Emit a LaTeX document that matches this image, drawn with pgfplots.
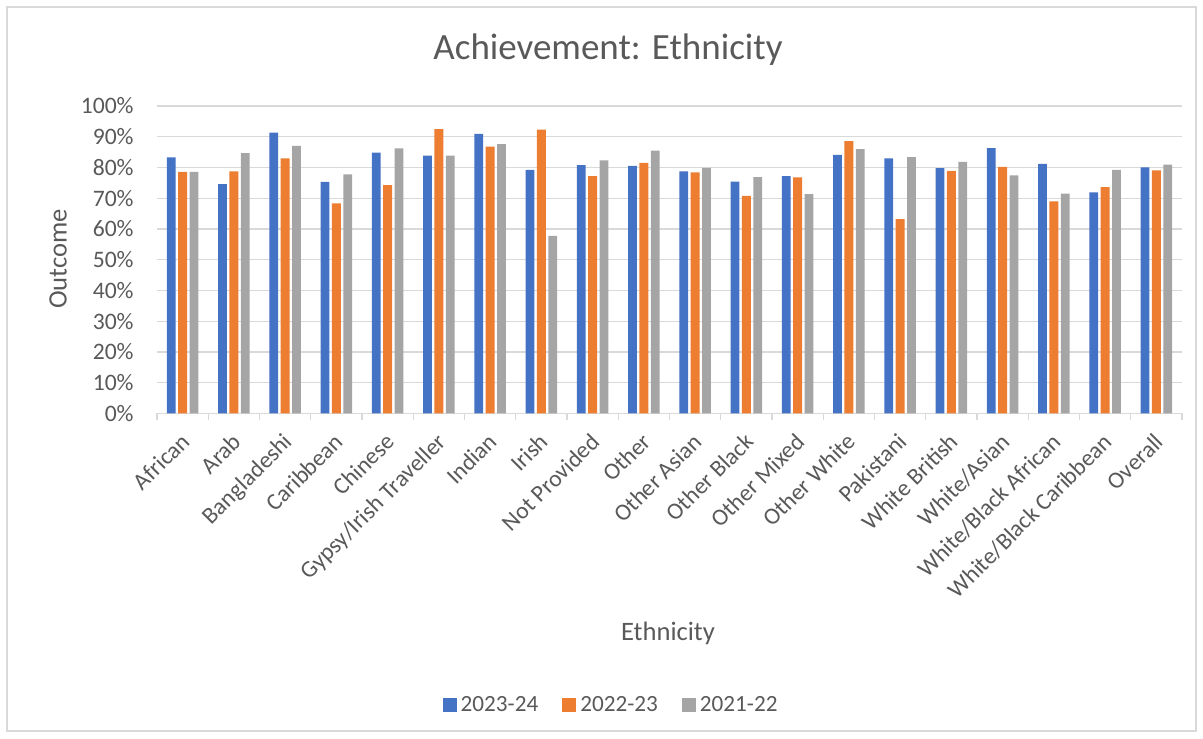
\documentclass[border=0pt]{standalone}
\usepackage{pgfplots}
\pgfplotsset{compat=1.18}
\usepackage{fontspec}
\setmainfont{Carlito}
\definecolor{cblue}{HTML}{4472C4}
\definecolor{corange}{HTML}{ED7D31}
\definecolor{cgray}{HTML}{A5A5A5}
\definecolor{ctext}{HTML}{595959}
\definecolor{cgrid}{HTML}{D9D9D9}
\begin{document}
\begin{tikzpicture}
\path[use as bounding box] (0,0) rectangle (601.5pt,369pt);
\draw[cgrid,line width=0.6pt] (3.5pt,3.5pt) rectangle (598pt,365.5pt);
\begin{axis}[
  at={(78.5pt,162.25pt)}, anchor=south west,
  scale only axis, width=512.5pt, height=153.75pt,
  ybar=1.3pt, bar width=4.4pt,
  xmin=-0.5, xmax=19.5, ymin=0, ymax=100,
  xtick={0,...,19},
  xticklabels={African,Arab,Bangladeshi,Caribbean,Chinese,Gypsy/Irish Traveller,Indian,Irish,Not Provided,Other,Other Asian,Other Black,Other Mixed,Other White,Pakistani,White British,White/Asian,White/Black African,White/Black Caribbean,Overall},
  major x tick style={draw=none},
  minor xtick={-0.5,0.5,...,19.5},
  minor x tick style={cgrid, line width=0.6pt},
  minor tick length=3pt,
  xtick align=outside,
  ytick={0,10,...,100},
  yticklabels={0\%,10\%,20\%,30\%,40\%,50\%,60\%,70\%,80\%,90\%,100\%},
  ymajorgrids, grid style={cgrid, line width=0.6pt},
  major y tick style={draw=none},
  axis x line*=bottom, axis y line*=left,
  x axis line style={cgrid, line width=0.6pt, -},
  y axis line style={draw=none},
  tick label style={font=\fontsize{11.8pt}{13pt}\selectfont, text=ctext},
  yticklabel style={anchor=east, inner sep=0pt, xshift=-11.5pt},
  xticklabel style={xshift=-1.6pt, yshift=-4.6pt, rotate=45, anchor=north east, inner sep=0pt},
  /pgf/number format/assume math mode=true,
  every axis title shift=0pt,
  title={Achievement: Ethnicity},
  title style={at={(axis description cs:0.44,1.182)}, anchor=center, font=\fontsize{18.5pt}{22pt}\selectfont, text=ctext},
  ylabel={Outcome},
  ylabel style={at={(axis description cs:-0.0966,0.502)}, anchor=center, font=\fontsize{13.3pt}{16pt}\selectfont, text=ctext},
  xlabel={Ethnicity},
  xlabel style={at={(axis description cs:0.4985,-0.714)}, anchor=center, font=\fontsize{13.3pt}{16pt}\selectfont, text=ctext},
  legend columns=3,
  legend style={at={(axis description cs:0.444,-0.948)}, anchor=center, draw=none, fill=none,
    font=\fontsize{11.6pt}{13pt}\selectfont, text=ctext,
    /tikz/every even column/.append style={column sep=10pt}},
  legend image code/.code={\fill[#1] (0pt,-3.5pt) rectangle (7pt,3.5pt);},
]
\addplot[fill=cblue, draw=none] coordinates {(0,83.3) (1,74.6) (2,91.3) (3,75.3) (4,84.8) (5,83.9) (6,90.9) (7,79.2) (8,80.8) (9,80.5) (10,78.7) (11,75.4) (12,77.2) (13,84.1) (14,83.0) (15,79.8) (16,86.3) (17,81.2) (18,71.9) (19,80.0)};
\addplot[fill=corange, draw=none] coordinates {(0,78.6) (1,78.7) (2,83.0) (3,68.3) (4,74.3) (5,92.5) (6,86.8) (7,92.3) (8,77.2) (9,81.5) (10,78.4) (11,70.8) (12,76.8) (13,88.6) (14,63.2) (15,78.9) (16,80.2) (17,69.0) (18,73.6) (19,79.1)};
\addplot[fill=cgray, draw=none] coordinates {(0,78.6) (1,84.7) (2,87.0) (3,77.8) (4,86.2) (5,83.9) (6,87.6) (7,57.8) (8,82.3) (9,85.5) (10,79.9) (11,76.9) (12,71.3) (13,86.0) (14,83.4) (15,81.8) (16,77.4) (17,71.5) (18,79.2) (19,80.9)};
\legend{2023-24,2022-23,2021-22}
\end{axis}
\end{tikzpicture}
\end{document}
